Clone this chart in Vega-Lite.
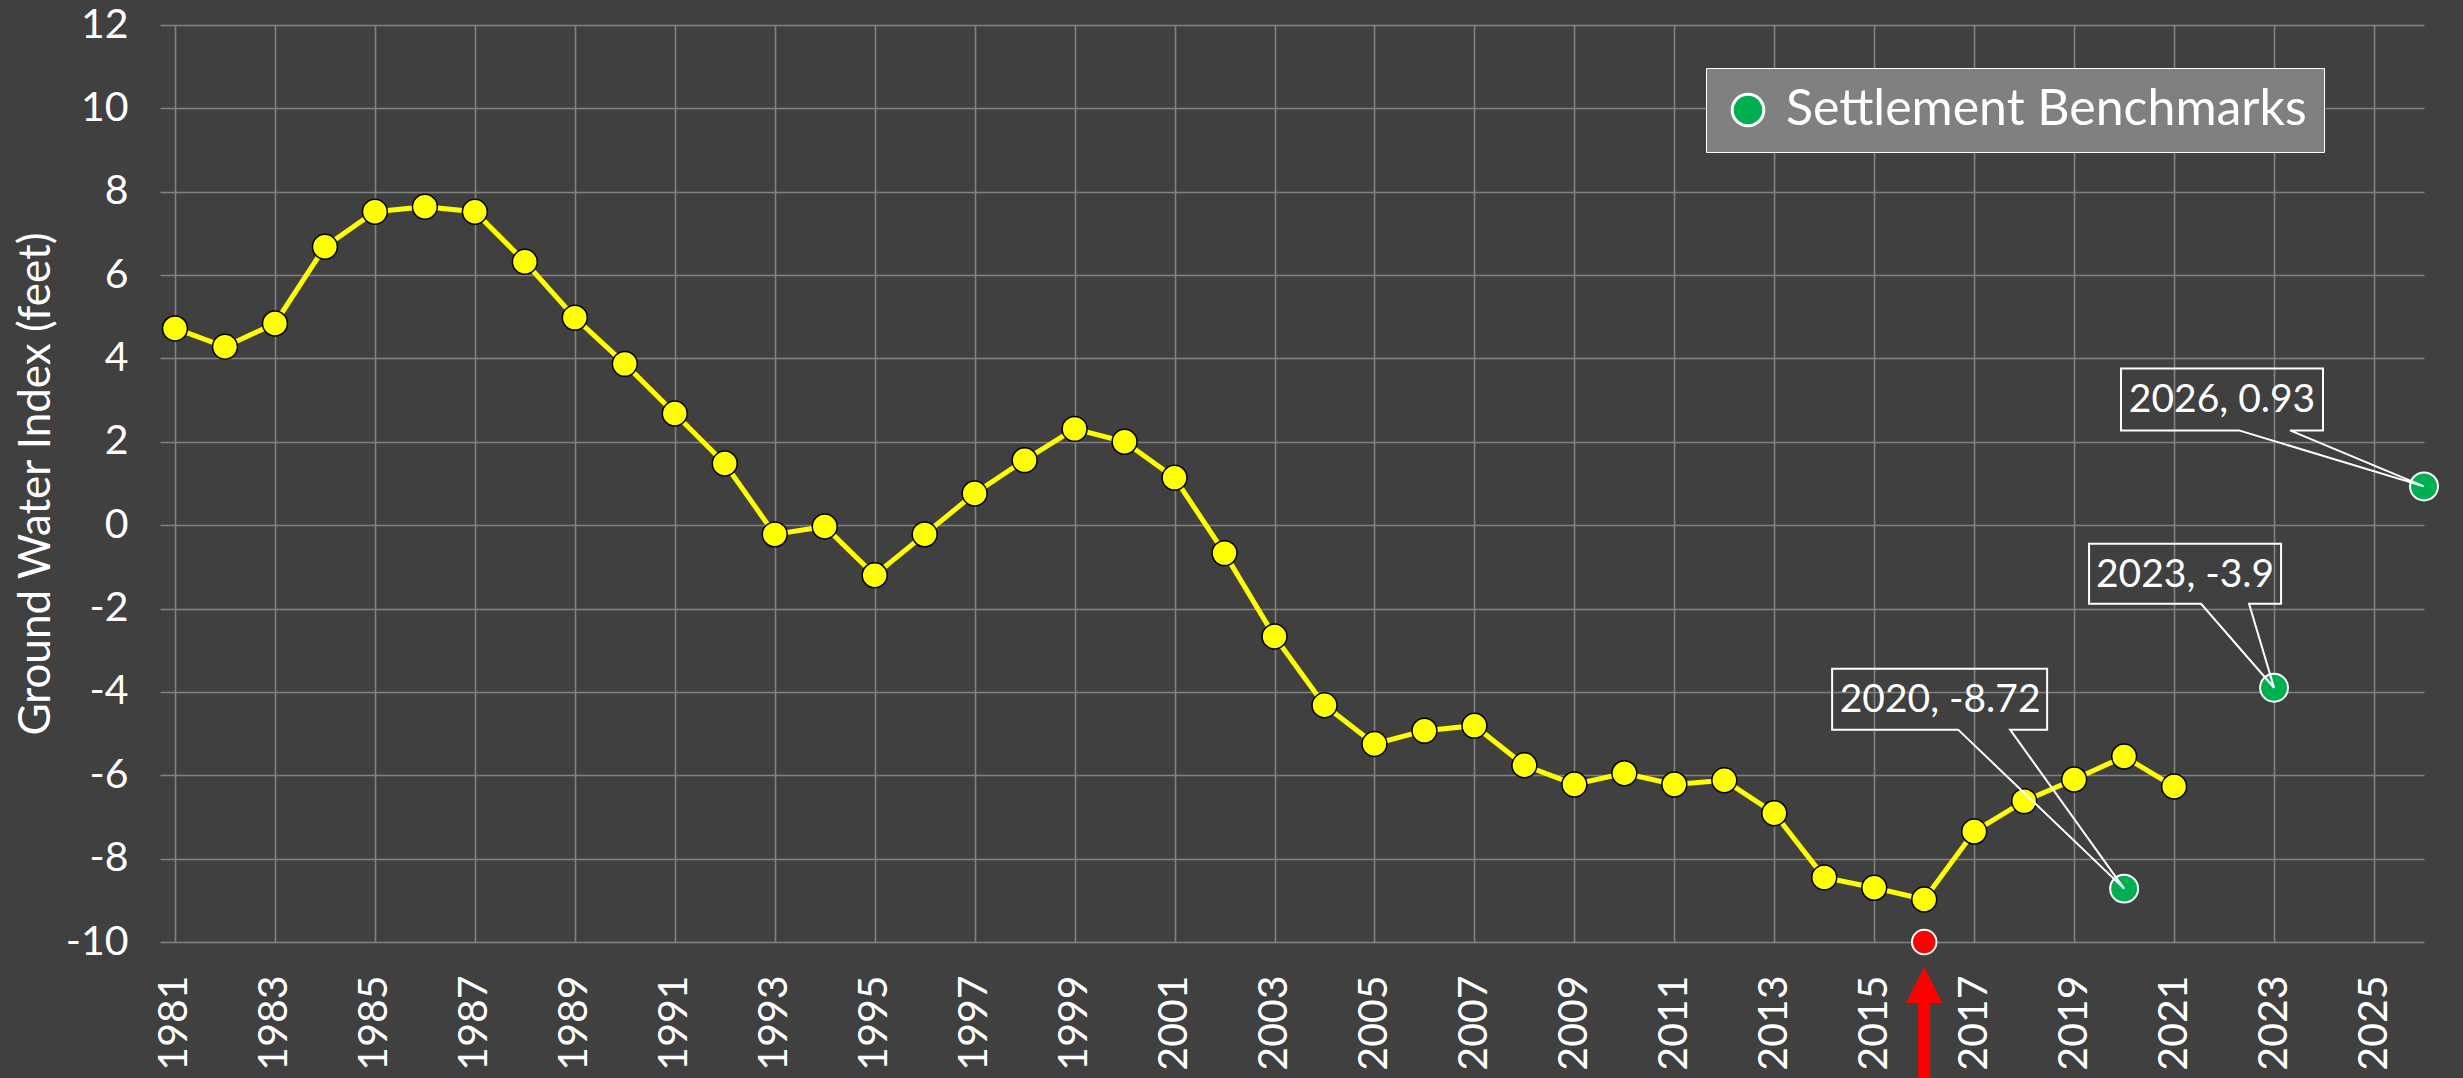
{
  "$schema": "https://vega.github.io/schema/vega-lite/v6.json",
  "autosize": {"type": "none"},
  "padding": {"left": 160, "top": 25, "right": 39, "bottom": 136},
  "width": 2264,
  "height": 917,
  "background": "#404040",
  "config": {
    "font": "Lato",
    "view": {"stroke": null},
    "axis": {"labelColor": "#FFFFFF", "titleColor": "#FFFFFF", "labelFont": "Lato", "titleFont": "Lato", "gridColor": "#828282", "gridWidth": 1.6, "domain": false, "ticks": false, "tickSize": 0}
  },
  "datasets": {
    "gwi": [
      {"year": 1981, "value": 4.72}, {"year": 1982, "value": 4.28}, {"year": 1983, "value": 4.84},
      {"year": 1984, "value": 6.68}, {"year": 1985, "value": 7.52}, {"year": 1986, "value": 7.64},
      {"year": 1987, "value": 7.52}, {"year": 1988, "value": 6.32}, {"year": 1989, "value": 4.98},
      {"year": 1990, "value": 3.87}, {"year": 1991, "value": 2.68}, {"year": 1992, "value": 1.48},
      {"year": 1993, "value": -0.22}, {"year": 1994, "value": -0.03}, {"year": 1995, "value": -1.2},
      {"year": 1996, "value": -0.22}, {"year": 1997, "value": 0.76}, {"year": 1998, "value": 1.56},
      {"year": 1999, "value": 2.31}, {"year": 2000, "value": 2.0}, {"year": 2001, "value": 1.14},
      {"year": 2002, "value": -0.67}, {"year": 2003, "value": -2.67}, {"year": 2004, "value": -4.32},
      {"year": 2005, "value": -5.25}, {"year": 2006, "value": -4.93}, {"year": 2007, "value": -4.81},
      {"year": 2008, "value": -5.76}, {"year": 2009, "value": -6.22}, {"year": 2010, "value": -5.95},
      {"year": 2011, "value": -6.22}, {"year": 2012, "value": -6.12}, {"year": 2013, "value": -6.91},
      {"year": 2014, "value": -8.45}, {"year": 2015, "value": -8.7}, {"year": 2016, "value": -8.98},
      {"year": 2017, "value": -7.35}, {"year": 2018, "value": -6.62}, {"year": 2019, "value": -6.1},
      {"year": 2020, "value": -5.55}, {"year": 2021, "value": -6.27}
    ],
    "bench": [
      {"year": 2020, "value": -8.72, "series": "Settlement Benchmarks", "label": "2020, -8.72"},
      {"year": 2023, "value": -3.9, "series": "Settlement Benchmarks", "label": "2023, -3.9"},
      {"year": 2026, "value": 0.93, "series": "Settlement Benchmarks", "label": "2026, 0.93"}
    ],
    "marker": [
      {"year": 2016, "value": -10}
    ]
  },
  "encoding": {
    "x": {
      "field": "year", "type": "quantitative",
      "scale": {"domain": [1980.7, 2026], "nice": false, "zero": false},
      "axis": {
        "title": null,
        "values": [1981, 1983, 1985, 1987, 1989, 1991, 1993, 1995, 1997, 1999, 2001, 2003, 2005, 2007, 2009, 2011, 2013, 2015, 2017, 2019, 2021, 2023, 2025],
        "format": "d", "labelAngle": -90, "labelFontSize": 41, "labelPadding": 33, "labelOverlap": false, "labelBound": false, "labelFlush": false
      }
    },
    "y": {
      "field": "value", "type": "quantitative",
      "scale": {"domain": [-10, 12], "nice": false, "zero": false},
      "axis": {
        "title": "Ground Water Index (feet)",
        "values": [-10, -8, -6, -4, -2, 0, 2, 4, 6, 8, 10, 12],
        "labelExpr": "datum.value < 0 ? '-' + abs(datum.value) : '' + datum.value",
        "labelFontSize": 41, "labelPadding": 32, "labelOverlap": false, "labelFlush": false,
        "titleFontSize": 44, "titleFontWeight": "normal", "titlePadding": 7
      }
    }
  },
  "layer": [
    {
      "data": {"name": "gwi"},
      "mark": {"type": "line", "color": "#FFFF00", "strokeWidth": 5}
    },
    {
      "data": {"name": "gwi"},
      "mark": {"type": "point", "shape": "circle", "filled": true, "fill": "#FFFF00", "stroke": "#000000", "strokeWidth": 1.5, "size": 620, "opacity": 1}
    },
    {
      "data": {"name": "bench"},
      "mark": {"type": "point", "shape": "circle", "filled": true, "stroke": "#FFFFFF", "strokeWidth": 2, "size": 780, "opacity": 1},
      "encoding": {
        "color": {
          "field": "series", "type": "nominal",
          "scale": {"domain": ["Settlement Benchmarks"], "range": ["#00B050"]},
          "legend": {
            "title": null, "orient": "none", "legendX": 1546, "legendY": 43,
            "fillColor": "#808080", "strokeColor": "#FFFFFF",
            "padding": 17, "symbolType": "circle", "symbolSize": 1000,
            "symbolStrokeColor": "#FFFFFF", "symbolStrokeWidth": 3, "symbolOpacity": 1,
            "labelFontSize": 50, "labelColor": "#FFFFFF", "labelFont": "Lato", "labelOffset": 13, "labelLimit": 0
          }
        }
      }
    },
    {
      "data": {"name": "marker"},
      "mark": {"type": "point", "shape": "circle", "filled": true, "fill": "#FF0000", "stroke": "#FFFFFF", "strokeWidth": 2, "size": 600, "opacity": 1}
    },
    {
      "data": {"name": "marker"},
      "mark": {"type": "point", "shape": "M0,25 L18,61 L6,61 L6,140 L-6,140 L-6,61 L-18,61 Z", "filled": true, "fill": "#FF0000", "strokeWidth": 0, "size": 4, "opacity": 1}
    },
    {
      "data": {"name": "bench"},
      "mark": {"type": "point", "filled": false, "stroke": "#FFFFFF", "strokeWidth": 2, "size": 4, "opacity": 1},
      "encoding": {
        "shape": {
          "field": "label", "type": "nominal", "legend": null,
          "scale": {
            "domain": ["2020, -8.72", "2023, -3.9", "2026, 0.93"],
            "range": [
              "M-292,-220 L-77,-220 L-77,-159 L-114,-159 L0,0 L-166,-159 L-292,-159 Z",
              "M-185,-144 L7,-144 L7,-84 L-25,-84 L0,0 L-73,-84 L-185,-84 Z",
              "M-303,-118 L-101,-118 L-101,-56 L-134,-56 L0,0 L-185,-56 L-303,-56 Z"
            ]
          }
        }
      }
    },
    {
      "data": {"name": "bench"},
      "transform": [{"filter": "datum.year == 2020"}],
      "mark": {"type": "text", "color": "#FFFFFF", "fontSize": 39, "align": "center", "baseline": "middle", "dx": -184, "dy": -189},
      "encoding": {"text": {"field": "label"}}
    },
    {
      "data": {"name": "bench"},
      "transform": [{"filter": "datum.year == 2023"}],
      "mark": {"type": "text", "color": "#FFFFFF", "fontSize": 39, "align": "center", "baseline": "middle", "dx": -89, "dy": -113},
      "encoding": {"text": {"field": "label"}}
    },
    {
      "data": {"name": "bench"},
      "transform": [{"filter": "datum.year == 2026"}],
      "mark": {"type": "text", "color": "#FFFFFF", "fontSize": 39, "align": "center", "baseline": "middle", "dx": -202, "dy": -86},
      "encoding": {"text": {"field": "label"}}
    }
  ]
}
